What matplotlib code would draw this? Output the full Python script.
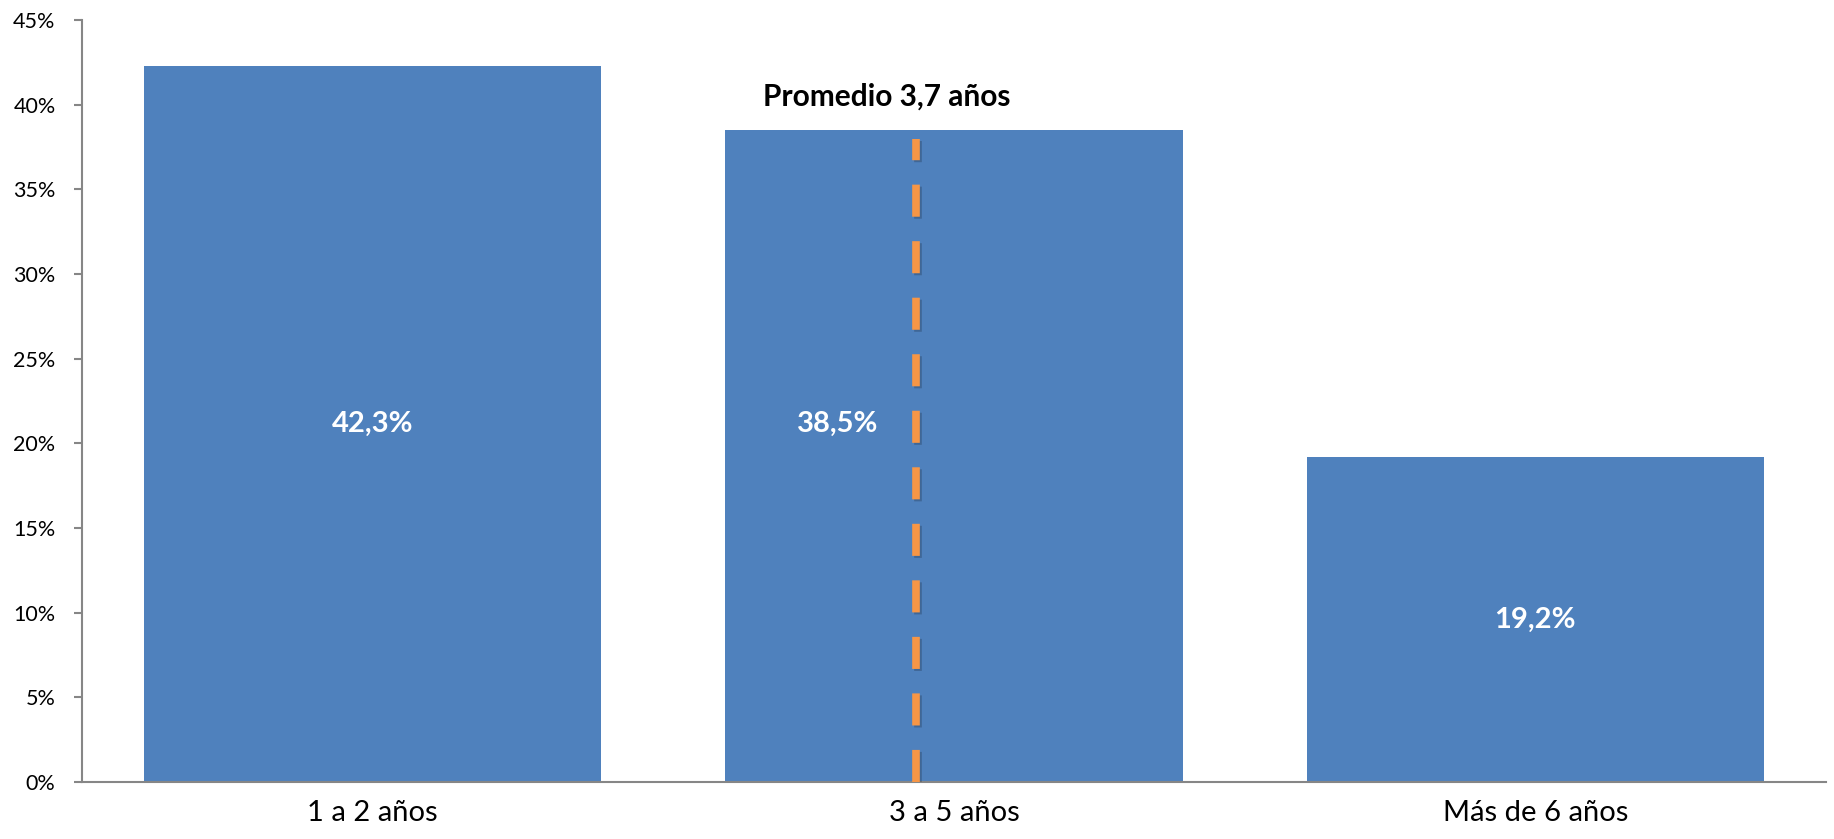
import matplotlib.pyplot as plt
import matplotlib.patheffects as pe
from matplotlib.ticker import MultipleLocator, FuncFormatter

# datos
categorias = ["1 a 2 años", "3 a 5 años", "Más de 6 años"]
porcentajes = [42.3, 38.5, 19.2]
etiquetas = ["42,3%", "38,5%", "19,2%"]
promedio_texto = "Promedio 3,7 años"

plt.rcParams['font.family'] = ['Lato', 'DejaVu Sans']

fig = plt.figure(figsize=(18.34, 8.39), dpi=100)
ax = fig.add_axes([0.0447, 0.0679, 0.9509, 0.9083])

x = list(range(len(categorias)))
ax.bar(x, porcentajes, width=0.787, color="#4F81BD", zorder=2)

# etiquetas dentro de las barras (la del medio corrida a la izquierda y a la altura de la primera)
desplaz = [0, -0.2, 0]
alturas = [porcentajes[0] / 2, porcentajes[0] / 2, porcentajes[2] / 2]
for xi, y, t, d in zip(x, alturas, etiquetas, desplaz):
    ax.text(xi + d, y, t, ha="center", va="center", color="white",
            fontsize=21, fontweight="bold", zorder=4)

# linea del promedio
x_prom = 0.935
ax.plot([x_prom, x_prom], [0, 38.0], color="#F79646", lw=5.5,
        dashes=(4.2, 3.2), solid_capstyle="butt", zorder=3,
        path_effects=[pe.SimpleLineShadow(offset=(1, -1.5), alpha=0.2),
                      pe.Normal()])
ax.text(0.885, 40.5, promedio_texto, ha="center", va="center",
        fontsize=21.5, fontweight="bold", color="black")

ax.set_xlim(-0.5, 2.5)
ax.set_ylim(0, 45)
ax.yaxis.set_major_locator(MultipleLocator(5))
ax.yaxis.set_major_formatter(FuncFormatter(lambda v, p: f"{v:.0f}%"))
ax.set_xticks(x)
ax.set_xticklabels(categorias)

for s in ["top", "right"]:
    ax.spines[s].set_visible(False)
for s in ["left", "bottom"]:
    ax.spines[s].set_color("#868686")
    ax.spines[s].set_linewidth(1.5)

ax.tick_params(axis="y", length=6, width=1.5, color="#868686",
               labelsize=15.5, pad=13)
ax.tick_params(axis="x", length=0, labelsize=21, pad=13)

fig.savefig("out.png", dpi=100)
